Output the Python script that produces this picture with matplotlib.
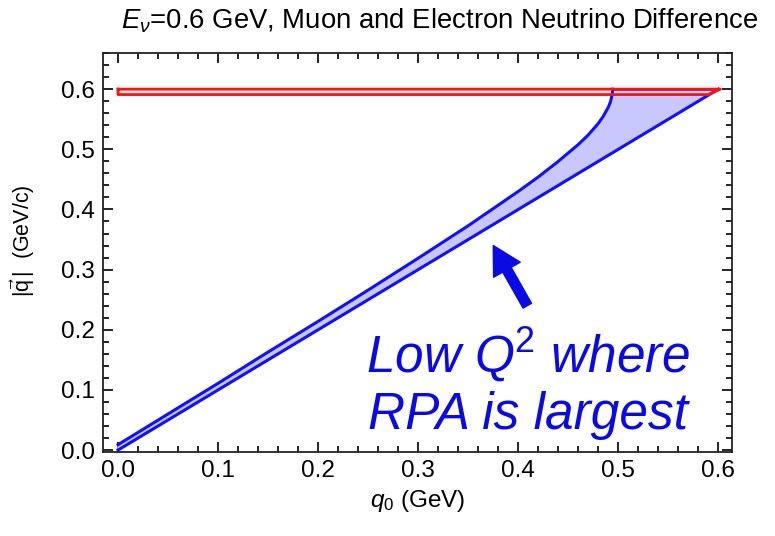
import matplotlib
matplotlib.use('Agg')
import matplotlib.pyplot as plt
from matplotlib.ticker import MultipleLocator

plt.rcParams['font.family'] = ['Liberation Sans', 'DejaVu Sans']
plt.rcParams['mathtext.fontset'] = 'custom'
plt.rcParams['mathtext.rm'] = 'Liberation Sans'
plt.rcParams['mathtext.it'] = 'Liberation Sans:italic'

# electron boundary |q| = q0 (lower edge of the shaded region)
q0_electron = [0.0, 0.6]
q_electron = [0.0, 0.6]

# muon boundary (upper edge of the shaded region)
q0_muon = [0.0, 0.05, 0.1, 0.15, 0.2, 0.25, 0.3, 0.35, 0.4, 0.42, 0.44,
           0.46, 0.47, 0.48, 0.485, 0.49, 0.492, 0.494, 0.4943]
q_muon = [0.009, 0.060, 0.111, 0.163, 0.214, 0.266, 0.319, 0.373, 0.430,
          0.454, 0.480, 0.508, 0.524, 0.543, 0.555, 0.570, 0.578, 0.592, 0.6]

# thin band just under |q| = 0.6
band_top = 0.6
band_bottom = 0.591
band_end = 0.602

fig = plt.figure(figsize=(7.75, 5.36), dpi=100)
ax = fig.add_axes([0.133, 0.157, 0.812, 0.744])

blue = '#1010ff'

# shaded difference region: muon curve on top, electron line below
upper_x = q0_muon + [0.6]
upper_y = q_muon + [0.6]
poly_x = upper_x + q0_electron[::-1]
poly_y = upper_y + q_electron[::-1]
ax.fill(poly_x, poly_y, color='#c8c8ff', zorder=2)
ax.plot(q0_muon, q_muon, color=blue, lw=2.2, zorder=4)
ax.plot([q0_muon[-1], 0.6], [band_top, band_top], color=blue, lw=1.8, zorder=4)
ax.plot(q0_electron, q_electron, color=blue, lw=2.2, zorder=4)

# red band
rx = [0.0, band_end, 0.59, 0.0, 0.0]
ry = [band_top, band_top, band_bottom, band_bottom, band_top]
ax.fill(rx, ry, color='#ffe0e0', alpha=0.6, zorder=3)
ax.plot(rx, ry, color='#ff1010', lw=2.0, zorder=5)

ax.set_xlim(-0.015, 0.614)
ax.set_ylim(-0.003, 0.66)
ax.xaxis.set_major_locator(MultipleLocator(0.1))
ax.xaxis.set_minor_locator(MultipleLocator(0.02))
ax.yaxis.set_major_locator(MultipleLocator(0.1))
ax.yaxis.set_minor_locator(MultipleLocator(0.02))
ax.xaxis.set_major_formatter(plt.FormatStrFormatter('%.1f'))
ax.yaxis.set_major_formatter(plt.FormatStrFormatter('%.1f'))
ax.tick_params(which='both', direction='in', top=True, right=True, width=1.2,
               labelsize=17.5, pad=6)
ax.tick_params(which='major', length=7)
ax.tick_params(which='minor', length=4)
for sp in ax.spines.values():
    sp.set_linewidth(1.3)
    sp.set_color('#222222')

ax.set_title(r'$E_\nu$=0.6 GeV, Muon and Electron Neutrino Difference',
             fontsize=19.8, pad=18, x=0.535)
ax.set_xlabel(r'$q_0$ (GeV)', fontsize=17.5, labelpad=4)
ax.set_ylabel(r'$|\vec{\mathrm{q}}\,|$  (GeV/c)', fontsize=15.5, labelpad=12)
ax.yaxis.set_label_coords(-0.105, 0.53)

# annotation
ax.annotate('', xy=(0.375, 0.34), xytext=(0.409, 0.24),
            arrowprops=dict(facecolor='#0a0ae6', edgecolor='#0a0ae6',
                            width=7, headwidth=22, headlength=20))
ax.text(0.410, 0.112, 'Low Q$^2$ where\nRPA is largest', color='#0a0ae6',
        fontsize=37, style='italic', ha='center', va='center',
        linespacing=1.2, zorder=6)

fig.savefig('out.png', dpi=100)
